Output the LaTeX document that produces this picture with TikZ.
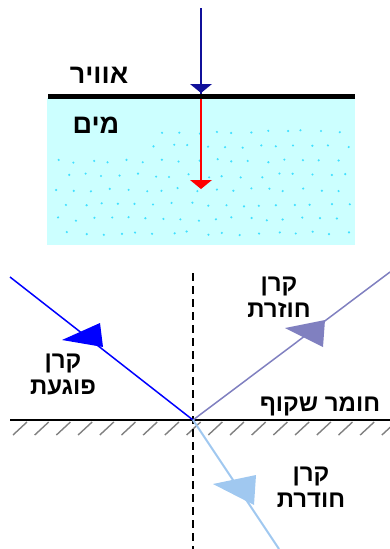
\documentclass[tikz,border=0pt]{standalone}
\usepackage{fontspec}
\TeXXeTstate=1
\newfontfamily\heb[Script=Hebrew]{Liberation Sans}
\definecolor{navyray}{HTML}{10109A}
\definecolor{waterbg}{HTML}{CCFFFF}
\definecolor{waterdot}{HTML}{40E0FF}
\definecolor{incray}{HTML}{0000FF}
\definecolor{refray}{HTML}{8080C0}
\definecolor{trnray}{HTML}{A0C8F0}
\definecolor{hatchgrey}{HTML}{808080}
\tikzset{
  lbl/.style={font=\heb\bfseries\fontsize{24}{26}\selectfont, align=center, inner sep=0pt},
  toplbl/.style={font=\heb\bfseries\fontsize{27}{27}\selectfont, inner sep=0pt},
  ray/.style={line width=1.5pt},
  hatchmark/.style={hatchgrey, line width=1.4pt},
}
\begin{document}
\begin{tikzpicture}[x=1pt,y=-1pt]
\useasboundingbox (0,0) rectangle (390,549);
% ---- top panel ----
\fill[waterbg] (47,98) rectangle (355,245);
\pgfmathsetseed{11}
\foreach \r in {0,...,7}{
  \foreach \c in {0,...,17}{
    \pgfmathsetmacro{\dx}{55+17.5*\c+9*mod(\r,2)+rnd*6}
    \pgfmathsetmacro{\dy}{130+14.5*\r+rnd*4}
    \pgfmathparse{(\dx<150 && \dy<148) || \dx>351 ? 0 : 1}
    \ifnum\pgfmathresult=1
      \fill[waterdot] (\dx,\dy) circle (1.2pt);
    \fi
  }
}
\draw[line width=4.5pt] (48,96.5) -- (355,96.5);
\coordinate (topstart) at (201,8);
\coordinate (surf) at (201,94);
\coordinate (redend) at (201,181);
\draw[navyray, line width=1.8pt] (topstart) -- (surf);
\fill[navyray] (190,84) -- (212,84) -- (201,93) -- cycle;
\draw[red, line width=1.8pt] (201,99) -- (redend);
\fill[red] (190,180) -- (212,180) -- (201,189) -- cycle;
\node[toplbl] (air) at (99,75) {\beginR אוויר\endR};
\node[toplbl] (water) at (96,125) {\beginR מים\endR};
% ---- bottom panel ----
\coordinate (O) at (193,420);
\coordinate (normtop) at (193,273);
\coordinate (normbot) at (193,549);
\coordinate (incstart) at (10,277);
\coordinate (refend) at (390,272);
\coordinate (trnend) at (279,549);
\coordinate (surfL) at (10,420);
\coordinate (surfR) at (390,420);
\foreach \i in {0,...,17}{
  \draw[hatchmark] ({13+21.7*\i},435) -- ++(14,-13);
}
\draw[line width=1.5pt] (surfL) -- (surfR);
\draw[dashed, dash pattern=on 8pt off 5pt, line width=1.6pt] (normtop) -- (normbot);
\draw[incray, ray] (incstart) -- (O);
\fill[incray] (62,340) -- (100,323) -- (103,347) -- cycle;
\draw[refray, ray] (O) -- (refend);
\fill[refray] (285,328) -- (325,320) -- (323,347) -- cycle;
\draw[trnray, line width=2pt] (O) -- (trnend);
\fill[trnray] (213,484) -- (256,475) -- (254,505) -- cycle;
\node[lbl] (reflbl) at (279,297) {\beginR קרן\endR\\\beginR חוזרת\endR};
\node[lbl] (inclbl) at (63,374.5) {\beginR קרן\endR\\\beginR פוגעת\endR};
\node[lbl] (trnlbl) at (311,487.5) {\beginR קרן\endR\\\beginR חודרת\endR};
\node[lbl] (medlbl) at (320,406) {\beginR חומר שקוף\endR};
\end{tikzpicture}
\end{document}
